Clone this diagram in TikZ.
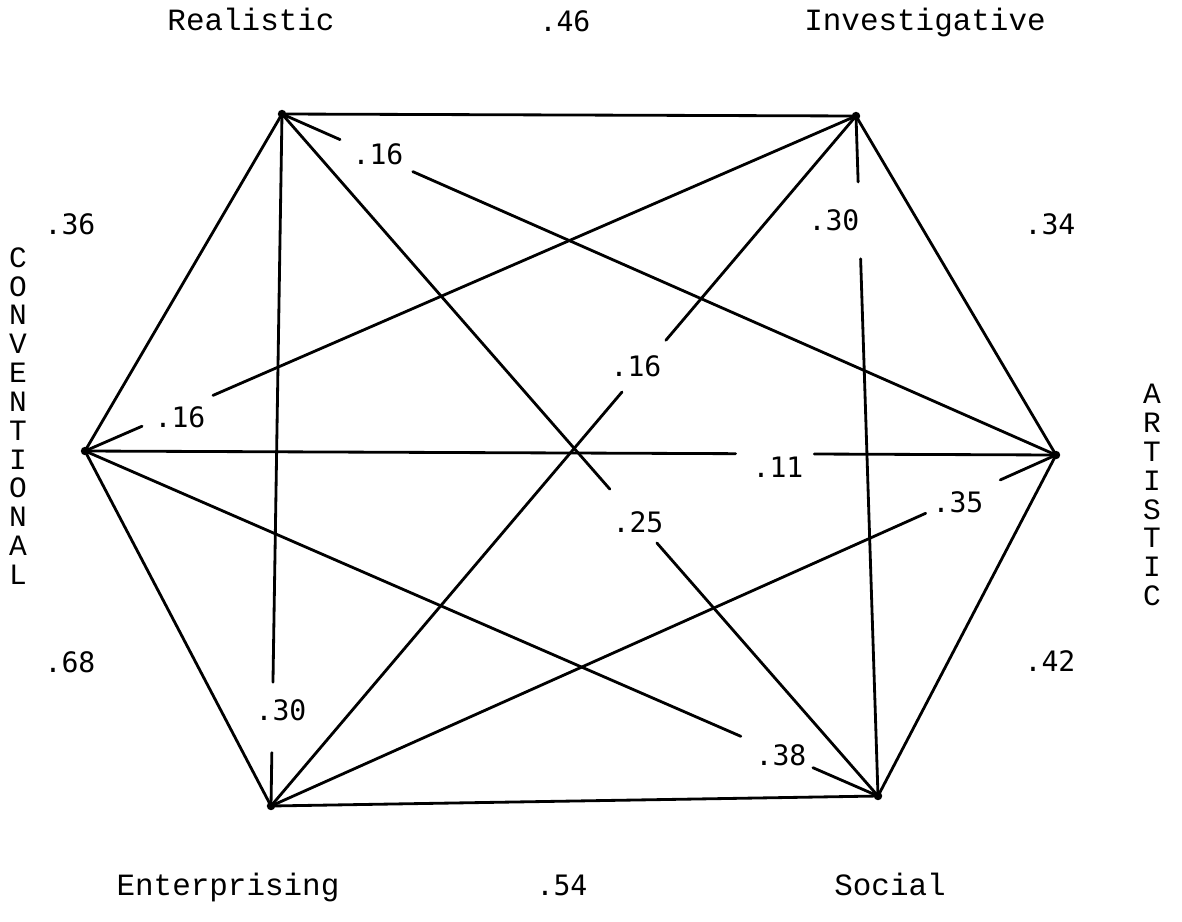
\documentclass[tikz,border=0pt]{standalone}
\usepackage{fontspec}
\usepackage{tikz}
\usetikzlibrary{calc}
\setmonofont{Liberation Mono}
\newfontfamily\numfont{DejaVu Sans Mono}

\begin{document}
\begin{tikzpicture}[
    x=0.025cm, y=-0.025cm,
    vertex/.style={circle, fill=black, inner sep=0pt, minimum size=6pt},
    edge/.style={line width=2pt, line cap=round, line join=round},
    typename/.style={font=\fontsize{22}{26}\selectfont\ttfamily, inner sep=0pt, anchor=base},
    corr/.style={font=\fontsize{20}{24}\selectfont\numfont, inner sep=0pt},
    vertname/.style={font=\fontsize{21}{20.5}\selectfont\ttfamily, align=center, inner sep=0pt},
]
\useasboundingbox (0,0) rectangle (1182,921);

% ===== HEXAGON CORNERS =====
\node[vertex] (R) at (282,114) {};
\node[vertex] (I) at (856,116) {};
\node[vertex] (A) at (1056,455) {};
\node[vertex] (S) at (878,796) {};
\node[vertex] (E) at (271,806) {};
\node[vertex] (C) at (85,451) {};

% ===== TYPE NAMES =====
\node[typename] (nameR) at (251,30) {Realistic};
\node[typename] (nameI) at (925,30) {Investigative};
\node[typename] (nameE) at (228,895) {Enterprising};
\node[typename] (nameS) at (890,895) {Social};
\node[vertname] (nameC) at (18,416) {C\\O\\N\\V\\E\\N\\T\\I\\O\\N\\A\\L};
\node[vertname] (nameA) at (1152,495) {A\\R\\T\\I\\S\\T\\I\\C};

% ===== OUTER EDGES =====
\draw[edge] (R.center) -- (I.center) -- (A.center) -- (S.center) -- (E.center) -- (C.center) -- (R.center);
\node[corr] (vRI) at (565,21) {.46};
\node[corr] (vIA) at (1050,224) {.34};
\node[corr] (vAS) at (1050,661) {.42};
\node[corr] (vSE) at (562,885) {.54};
\node[corr] (vEC) at (70,662) {.68};
\node[corr] (vCR) at (70,224) {.36};

% ===== DIAGONALS, broken for their values =====
\draw[edge] (R.center) -- ($(R.center)!0.075!(A.center)$) ($(R.center)!0.169!(A.center)$) -- (A.center);
\draw[edge] (R.center) -- ($(R.center)!0.55!(S.center)$) ($(R.center)!0.629!(S.center)$) -- (S.center);
\draw[edge] (R.center) -- ($(R.center)!0.821!(E.center)$) ($(R.center)!0.923!(E.center)$) -- (E.center);
\draw[edge] (I.center) -- ($(I.center)!0.097!(S.center)$) ($(I.center)!0.21!(S.center)$) -- (S.center);
\draw[edge] (I.center) -- ($(I.center)!0.325!(E.center)$) ($(I.center)!0.40!(E.center)$) -- (E.center);
\draw[edge] (C.center) -- ($(C.center)!0.074!(I.center)$) ($(C.center)!0.166!(I.center)$) -- (I.center);
\draw[edge] (C.center) -- ($(C.center)!0.670!(A.center)$) ($(C.center)!0.751!(A.center)$) -- (A.center);
\draw[edge] (C.center) -- ($(C.center)!0.827!(S.center)$) ($(C.center)!0.918!(S.center)$) -- (S.center);
\draw[edge] (E.center) -- ($(E.center)!0.834!(A.center)$) ($(E.center)!0.929!(A.center)$) -- (A.center);

\node[corr] (vRA) at (378,154) {.16};
\node[corr] (vRS) at (638,522) {.25};
\node[corr] (vRE) at (281,710) {.30};
\node[corr] (vIS) at (834,220) {.30};
\node[corr] (vIE) at (636,366) {.16};
\node[corr] (vCI) at (180,417) {.16};
\node[corr] (vCA) at (778,467) {.11};
\node[corr] (vCS) at (781,755) {.38};
\node[corr] (vEA) at (958,502) {.35};

\end{tikzpicture}
\end{document}
